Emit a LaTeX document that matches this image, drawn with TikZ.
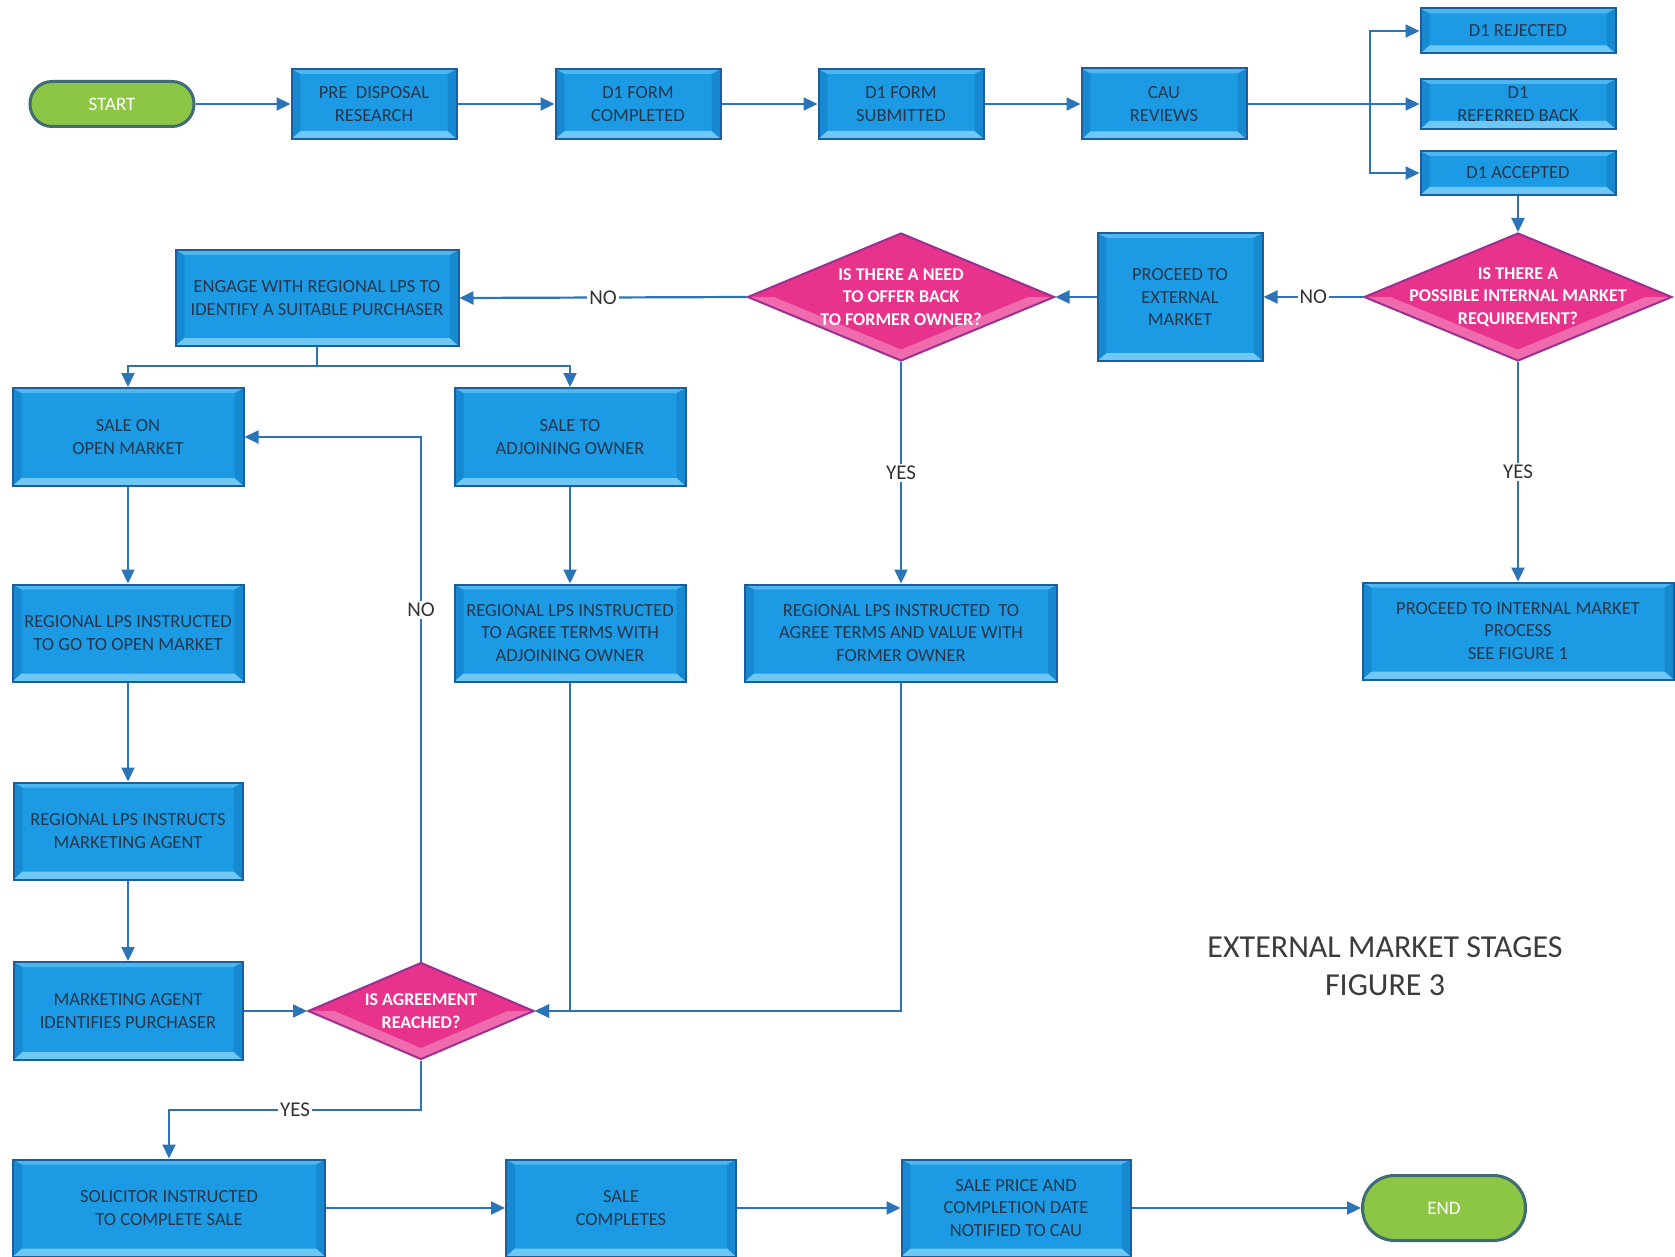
\documentclass[tikz,border=0pt]{standalone}
\usepackage{fontspec}
\setmainfont{Carlito}
\usetikzlibrary{shapes.geometric,arrows.meta,calc}
\definecolor{boxfill}{HTML}{1C9BE4}
\definecolor{boxedge}{HTML}{1A5E9E}
\definecolor{boxtext}{HTML}{26364C}
\definecolor{bevlo}{HTML}{6FC8F4}
\definecolor{bevhi}{HTML}{4DB6EE}
\definecolor{bevside}{HTML}{1789D0}
\definecolor{diafill}{HTML}{E8338C}
\definecolor{dialo}{HTML}{F06AAE}
\definecolor{diaedge}{HTML}{9A3090}
\definecolor{termfill}{HTML}{8DC545}
\definecolor{termedge}{HTML}{3F6B74}
\definecolor{arrowc}{HTML}{2B74B8}
\definecolor{titlec}{HTML}{3C3C3C}
\definecolor{lblc}{HTML}{333333}
\begin{document}
\begin{tikzpicture}[x=1pt,y=-1pt,
  bevel/.style={path picture={
    \coordinate (bsw) at (path picture bounding box.south west);
    \coordinate (bne) at (path picture bounding box.north east);
    \fill[bevside] (bsw) -- ([shift={(9pt,8pt)}]bsw) -- ([shift={(9pt,-5pt)}]bsw |- bne) -- (bsw |- bne) -- cycle;
    \fill[bevside] (bsw -| bne) -- ([shift={(-9pt,8pt)}]bsw -| bne) -- ([shift={(-9pt,-5pt)}]bne) -- (bne) -- cycle;
    \fill[bevhi] (bsw |- bne) -- (bne) -- ([shift={(-9pt,-5pt)}]bne) -- ([shift={(9pt,-5pt)}]bsw |- bne) -- cycle;
    \fill[bevlo] (bsw) -- (bsw -| bne) -- ([shift={(-9pt,8pt)}]bsw -| bne) -- ([shift={(9pt,8pt)}]bsw) -- cycle;
  }},
  box/.style={rectangle, draw=boxedge, line width=2pt, fill=boxfill, text=boxtext,
    align=center, inner sep=0pt, font=\fontsize{18.5}{22.4}\selectfont, bevel},
  diabevel/.style={path picture={
    \fill[dialo] (path picture bounding box.west) -- (path picture bounding box.south)
      -- (path picture bounding box.east) -- ([xshift=-26pt]path picture bounding box.east)
      -- ([yshift=11pt]path picture bounding box.south) -- ([xshift=26pt]path picture bounding box.west) -- cycle;
  }},
  dia/.style={diamond, draw=diaedge, line width=2pt, fill=diafill, inner sep=0pt, diabevel},
  diatext/.style={text=white, align=center, inner sep=0pt, font=\bfseries\fontsize{18}{22.4}\selectfont},
  term/.style={rectangle, draw=termedge, line width=3pt, fill=termfill, text=white,
    inner sep=0pt, font=\fontsize{19}{22}\selectfont},
  arr/.style={draw=arrowc, line width=2.2pt, -{Triangle[length=14pt,width=13pt]}},
  plain/.style={draw=arrowc, line width=2.2pt},
  lbl/.style={fill=white, inner sep=2pt, text=lblc, font=\fontsize{21}{24}\selectfont},
]
\useasboundingbox[fill=white] (0,0) rectangle (1675,1257);

% top row
\node[term, minimum width=164pt, minimum height=45pt, rounded corners=22pt] (start) at (112,104) {START};
\node[box, minimum width=165pt, minimum height=70pt] (pre) at (374,104) {PRE\ \ DISPOSAL\\RESEARCH};
\node[box, minimum width=165pt, minimum height=70pt] (d1c) at (638,104) {D1 FORM\\COMPLETED};
\node[box, minimum width=165pt, minimum height=70pt] (d1s) at (901,104) {D1 FORM\\SUBMITTED};
\node[box, minimum width=165pt, minimum height=71pt] (cau) at (1164,104) {CAU\\REVIEWS};
\node[box, minimum width=195pt, minimum height=45pt] (rej) at (1518,31) {D1 REJECTED};
\node[box, minimum width=195pt, minimum height=50pt] (ref) at (1518,104) {D1\\REFERRED BACK};
\node[box, minimum width=195pt, minimum height=44pt] (acc) at (1518,173) {D1 ACCEPTED};

% second row
\node[dia, minimum width=308pt, minimum height=128pt] (qint) at (1518,297) {};
\node[diatext] at (qint) {IS THERE A\\POSSIBLE INTERNAL MARKET\\REQUIREMENT?};
\node[box, minimum width=165pt, minimum height=128pt] (ext) at (1180,297) {PROCEED TO\\EXTERNAL\\MARKET};
\node[dia, minimum width=307pt, minimum height=128pt] (qneed) at (901,297) {};
\node[diatext] at (qneed) {IS THERE A NEED\\TO OFFER BACK\\TO FORMER OWNER?};
\node[box, minimum width=283pt, minimum height=96pt] (engage) at (317,298) {ENGAGE WITH REGIONAL LPS TO\\IDENTIFY A SUITABLE PURCHASER};

% third row
\node[box, minimum width=231pt, minimum height=98pt] (open) at (128,437) {SALE ON\\OPEN MARKET};
\node[box, minimum width=231pt, minimum height=98pt] (adj) at (570,437) {SALE TO\\ADJOINING OWNER};

% fourth row
\node[box, minimum width=231pt, minimum height=97pt] (gomkt) at (128,633) {REGIONAL LPS INSTRUCTED\\TO GO TO OPEN MARKET};
\node[box, minimum width=231pt, minimum height=97pt] (adjterms) at (570,633) {REGIONAL LPS INSTRUCTED\\TO AGREE TERMS WITH\\ADJOINING OWNER};
\node[box, minimum width=312pt, minimum height=97pt] (former) at (901,633) {REGIONAL LPS INSTRUCTED\ \ TO\\AGREE TERMS AND VALUE WITH\\FORMER OWNER};
\node[box, minimum width=311pt, minimum height=97pt] (internal) at (1518,631) {PROCEED TO INTERNAL MARKET\\PROCESS\\SEE FIGURE 1};

% lower left
\node[box, minimum width=229pt, minimum height=97pt] (instr) at (128,831) {REGIONAL LPS INSTRUCTS\\MARKETING AGENT};
\node[box, minimum width=229pt, minimum height=98pt] (mktagent) at (128,1011) {MARKETING AGENT\\IDENTIFIES PURCHASER};
\node[dia, minimum width=226pt, minimum height=97pt] (agree) at (421,1011) {};
\node[diatext] at (agree) {IS AGREEMENT\\REACHED?};

% bottom row
\node[box, minimum width=312pt, minimum height=97pt] (sol) at (169,1208) {SOLICITOR INSTRUCTED\\TO COMPLETE SALE};
\node[box, minimum width=230pt, minimum height=97pt] (salec) at (621,1208) {SALE\\COMPLETES};
\node[box, minimum width=229pt, minimum height=97pt] (notif) at (1016,1208) {SALE PRICE AND\\COMPLETION DATE\\NOTIFIED TO CAU};
\node[term, minimum width=163pt, minimum height=65pt, rounded corners=32pt] (end) at (1444,1208) {END};

% title
\node[text=titlec, align=center, font=\fontsize{32}{38}\selectfont] (title) at (1385,966) {EXTERNAL MARKET STAGES\\FIGURE 3};

% coordinates
\coordinate (br) at (1370,104);
\coordinate (sp) at (317,366);
\coordinate (yb) at (421,1110);
\coordinate (yc) at (169,1110);

% connectors top row
\draw[arr] (start) -- (pre);
\draw[arr] (pre) -- (d1c);
\draw[arr] (d1c) -- (d1s);
\draw[arr] (d1s) -- (cau);
\draw[plain] (cau.east) -- (br);
\draw[arr] (br) -- (ref.west);
\draw[arr] (br) |- (rej.west);
\draw[arr] (br) |- (acc.west);
\draw[arr] (acc.south) -- (qint.north);

% second row
\draw[arr] (qint.west) -- node[lbl] {NO} (ext.east);
\draw[arr] (ext.west) -- (qneed.east);
\draw[arr] (qneed.west) -- node[lbl] {NO} (engage.east);
\draw[arr] (qint.south) -- node[lbl] {YES} (internal.north);
\draw[arr] (qneed.south) -- node[lbl] {YES} (former.north);

% split
\draw[plain] (engage.south) -- (sp);
\draw[arr] (sp) -| (open.north);
\draw[arr] (sp) -| (adj.north);

% left column
\draw[arr] (open) -- (gomkt);
\draw[arr] (gomkt) -- (instr);
\draw[arr] (instr) -- (mktagent);
\draw[arr] (adj) -- (adjterms);
\draw[arr] (mktagent.east) -- (agree.west);
\draw[arr] (adjterms.south) |- (agree.east);
\draw[arr] (former.south) |- (agree.east);
\draw[arr] (agree.north) |- node[lbl, pos=0.335] {NO} (open.east);

% yes to solicitor
\draw[arr] (agree.south) -- (yb) -- node[lbl] {YES} (yc) -- (sol.north);

% bottom row
\draw[arr] (sol) -- (salec);
\draw[arr] (salec) -- (notif);
\draw[arr] (notif) -- (end);
\end{tikzpicture}
\end{document}
